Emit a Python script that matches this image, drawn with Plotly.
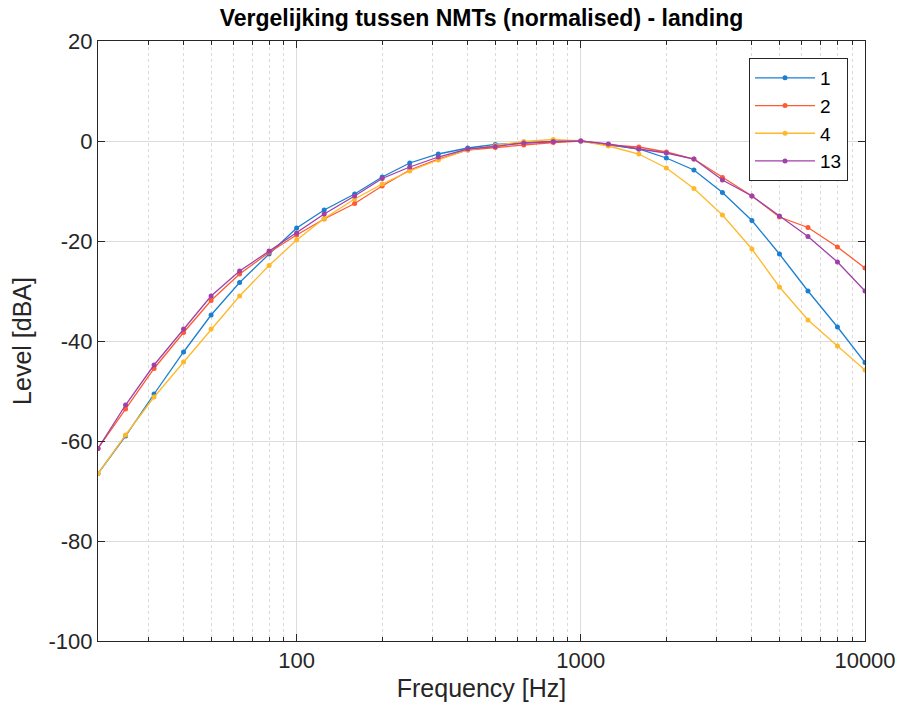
import plotly.graph_objects as go

freqs = [20, 25, 31.5, 40, 50, 63, 80, 100, 125, 160, 200, 250, 315, 400, 500,
         630, 800, 1000, 1250, 1600, 2000, 2500, 3150, 4000, 5000, 6300, 8000, 10000]

nmt1 = [-66.5, -59.0, -50.6, -42.2, -34.8, -28.3, -22.6, -17.4, -13.8, -10.6, -7.2, -4.4, -2.6, -1.4, -0.7,
        -0.4, -0.1, 0.0, -0.7, -1.6, -3.4, -5.8, -10.3, -15.9, -22.6, -30.0, -37.2, -44.3]
nmt2 = [-61.5, -53.6, -45.5, -38.3, -31.9, -26.6, -22.3, -18.8, -15.6, -12.5, -9.0, -5.8, -3.6, -1.8, -1.3,
        -0.8, -0.3, 0.0, -0.8, -1.2, -2.2, -3.6, -7.3, -11.0, -15.2, -17.3, -21.2, -25.4]
nmt4 = [-66.5, -58.8, -51.2, -44.2, -37.6, -31.0, -24.9, -19.8, -15.5, -11.6, -8.6, -6.0, -3.8, -1.8, -0.9,
        -0.1, 0.3, 0.0, -1.0, -2.6, -5.4, -9.5, -14.8, -21.6, -29.2, -35.8, -41.0, -45.8]
nmt13 = [-61.5, -52.8, -44.8, -37.6, -31.0, -26.0, -22.0, -18.4, -14.6, -11.0, -7.5, -5.2, -3.2, -1.6, -1.1,
         -0.4, -0.1, 0.0, -0.6, -1.6, -2.4, -3.6, -7.8, -11.0, -15.0, -19.1, -24.2, -30.0]

names = ["1", "2", "4", "13"]
series = [nmt1, nmt2, nmt4, nmt13]
colors = ["#1a7fd0", "#ff5a30", "#ffb82a", "#a040a8"]

y_ticks = [-100, -80, -60, -40, -20, 0, 20]
y_ticktext = ["-100", "-80", "-60", "-40", "-20", "0", "20"]
x_ticks = [100, 1000, 10000]
x_ticktext = ["100", "1000", "10000"]
x_minor = [m * d for d in (10, 100, 1000) for m in range(2, 10) if 20 <= m * d <= 10000]

fig = go.Figure()
for n, s, c in zip(names, series, colors):
    fig.add_trace(go.Scatter(x=freqs, y=s, name=n, mode="lines+markers",
                             line=dict(color=c, width=1.3),
                             marker=dict(color=c, size=5)))

axis_col = "#262626"
fig.update_layout(
    width=900, height=718,
    paper_bgcolor="white", plot_bgcolor="white",
    margin=dict(l=98, r=35, t=41, b=77, autoexpand=False),
    font=dict(family="Liberation Sans, Arial, sans-serif", color=axis_col),
    title=dict(text="<b>Vergelijking tussen NMTs (normalised) - landing</b>",
               x=0.5, xanchor="center", xref="paper", yref="container", y=0.975, yanchor="middle",
               font=dict(size=23, color="black"), automargin=False),
    showlegend=True,
    legend=dict(x=(848 - 98) / 767, y=(641 - 58) / 600, xanchor="right", yanchor="top",
                bgcolor="white", bordercolor="#262626", borderwidth=1,
                font=dict(size=19, color="black"), tracegroupgap=0,
                itemwidth=60),
)
fig.update_xaxes(
    type="log", range=[1.30103, 4.0], tickvals=x_ticks, ticktext=x_ticktext,
    showgrid=True, gridcolor="#dcdcdc", gridwidth=1,
    minor=dict(tickvals=x_minor, showgrid=True, gridcolor="#dadada", griddash="dot",
               ticks="inside", ticklen=4, tickcolor=axis_col),
    ticks="inside", ticklen=7, tickcolor=axis_col,
    showline=True, linecolor=axis_col, linewidth=1, mirror="ticks",
    tickfont=dict(size=22, color=axis_col),
    title=dict(text="Frequency [Hz]", font=dict(size=25, color=axis_col), standoff=7),
    zeroline=False, automargin=False,
)
fig.update_yaxes(
    range=[-100, 20], tickvals=y_ticks, ticktext=y_ticktext,
    showgrid=True, gridcolor="#dcdcdc", gridwidth=1,
    ticks="inside", ticklen=7, tickcolor=axis_col,
    showline=True, linecolor=axis_col, linewidth=1, mirror="ticks",
    tickfont=dict(size=22, color=axis_col),
    title=dict(text="Level [dBA]", font=dict(size=25, color=axis_col), standoff=9),
    zeroline=False, automargin=False,
)
fig.write_html("out.html", config={"displayModeBar": False},
               post_script="document.body.style.margin='0px';")
